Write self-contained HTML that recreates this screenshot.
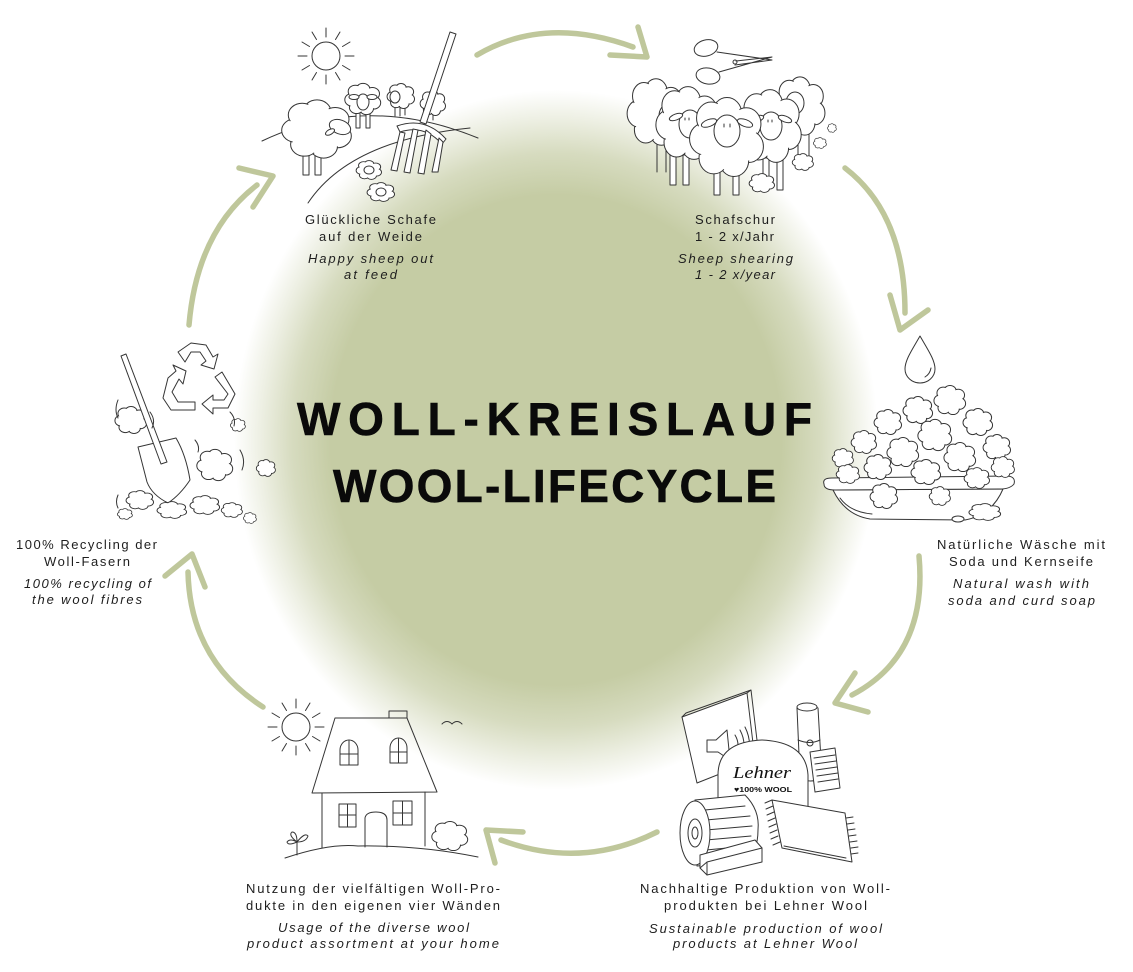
<!DOCTYPE html>
<html><head><meta charset="utf-8">
<style>
html,body{margin:0;padding:0;background:#fff;}
svg{display:block;}
.l{fill:none;stroke:#353535;stroke-width:1;stroke-linecap:round;stroke-linejoin:round;}
.w{fill:#fff;stroke:#353535;stroke-width:1;stroke-linejoin:round;stroke-linecap:round;}
.a{fill:none;stroke:#bfc79b;stroke-width:5.5;stroke-linecap:round;stroke-linejoin:round;}
.t{font-family:"Liberation Sans",sans-serif;font-size:13px;fill:#1e1e1e;}
.i{font-style:italic;}
.h{font-family:"Liberation Sans",sans-serif;font-size:46px;font-weight:bold;fill:#0a0a0a;stroke:#0a0a0a;stroke-width:0.6;}
</style></head><body>
<svg width="1133" height="972" viewBox="0 0 1133 972" xmlns="http://www.w3.org/2000/svg">
<defs>
<radialGradient id="g">
<stop offset="0" stop-color="#c5cca4"/>
<stop offset="0.7" stop-color="#c5cca4"/>
<stop offset="0.82" stop-color="#c5cca4" stop-opacity="0.7"/>
<stop offset="0.92" stop-color="#c5cca4" stop-opacity="0.3"/>
<stop offset="1" stop-color="#c5cca4" stop-opacity="0"/>
</radialGradient>
<g id="cloud">
<g fill="#fff" stroke="#353535" stroke-width="1">
<circle cx="0" cy="-0.62" r="0.42" vector-effect="non-scaling-stroke"/>
<circle cx="0.55" cy="-0.35" r="0.42" vector-effect="non-scaling-stroke"/>
<circle cx="0.62" cy="0.25" r="0.42" vector-effect="non-scaling-stroke"/>
<circle cx="0.2" cy="0.62" r="0.42" vector-effect="non-scaling-stroke"/>
<circle cx="-0.38" cy="0.55" r="0.42" vector-effect="non-scaling-stroke"/>
<circle cx="-0.65" cy="0.05" r="0.42" vector-effect="non-scaling-stroke"/>
<circle cx="-0.45" cy="-0.5" r="0.42" vector-effect="non-scaling-stroke"/>
</g>
<g fill="#fff">
<circle cx="0" cy="-0.62" r="0.37"/>
<circle cx="0.55" cy="-0.35" r="0.37"/>
<circle cx="0.62" cy="0.25" r="0.37"/>
<circle cx="0.2" cy="0.62" r="0.37"/>
<circle cx="-0.38" cy="0.55" r="0.37"/>
<circle cx="-0.65" cy="0.05" r="0.37"/>
<circle cx="-0.45" cy="-0.5" r="0.37"/>
<circle cx="0" cy="0" r="0.75"/>
</g>
</g>
</defs>
<rect width="1133" height="972" fill="#fff"/>
<ellipse cx="556" cy="440" rx="322" ry="350" fill="url(#g)"/>

<!-- Title -->
<text class="h" x="297" y="435" textLength="515" lengthAdjust="spacing">WOLL-KREISLAUF</text>
<text class="h" x="333" y="502" textLength="443" lengthAdjust="spacing">WOOL-LIFECYCLE</text>

<!-- Arrows -->
<path class="a" d="M477,55 Q545,15 633,47 M638,27 L647,57 L610,55"/>
<path class="a" d="M845,168 Q905,214 905,313 M890,295 L900,330 L928,310"/>
<path class="a" d="M919,556 Q928,655 852,695 M855,673 L835,703 L868,712"/>
<path class="a" d="M657,832 Q581,870 501,840 M523,832 L486,830 L495,863"/>
<path class="a" d="M263,707 Q190,660 188,572 M165,576 L192,554 L205,587"/>
<path class="a" d="M189,325 Q197,231 257,185 M239,168 L273,176 L253,207"/>

<!-- Illustration 1: sheep on meadow -->
<circle class="l" cx="326" cy="56" r="14"/>
<path class="l" d="M345,56H354 M342.5,65.5L350,70 M335.5,72.5L340,80 M326,75V84 M316.5,72.5L312,80 M309.5,65.5L302,70 M307,56H298 M309.5,46.5L302,42 M316.5,39.5L312,32 M326,37V28 M335.5,39.5L340,32 M342.5,46.5L350,42"/>
<path class="l" d="M262,141 Q365,92 478,138"/>
<path class="l" d="M308,203 Q350,140 470,128"/>
<path class="l" d="M395,105V116 M400,105V116 M405,105V115"/>
<use href="#cloud" transform="translate(401 96) scale(13 12)"/>
<ellipse class="w" cx="395" cy="97" rx="5" ry="6"/>
<path class="l" d="M427,110V120 M433,110V120"/>
<use href="#cloud" transform="translate(433 103) scale(12 12)"/>
<path class="w" d="M356,110h4v18h-4z M366,110h4v18h-4z"/>
<use href="#cloud" transform="translate(363 99) scale(17 15)"/>
<ellipse class="w" cx="363" cy="102" rx="6" ry="8"/>
<ellipse class="w" cx="354" cy="97" rx="5" ry="2.5"/>
<ellipse class="w" cx="372" cy="97" rx="5" ry="2.5"/>
<path class="w" d="M303,150h6v25h-6z M315,150h6v25h-6z"/>
<use href="#cloud" transform="translate(317 129) scale(33 28)"/>
<ellipse class="w" cx="340" cy="127" rx="11" ry="7" transform="rotate(20 340 127)"/>
<ellipse class="w" cx="330" cy="132" rx="5" ry="2.5" transform="rotate(-30 330 132)"/>
<path class="w" d="M450,32 L456,34 L426,124 L420,122 Z"/>
<path class="w" d="M397,126 Q425,116 446,139 L442,144 Q424,124 400,132 Z"/>
<path class="w" d="M400,132 L391,170 L397,171 L405,133 Z M413,129 L404,172 L410,173 L418,130 Z M426,130 L418,173 L424,174 L431,134 Z M439,138 L432,172 L438,172 L443,142 Z"/>
<use href="#cloud" transform="translate(369 170) scale(12 9)"/>
<ellipse class="l" cx="369" cy="170" rx="5" ry="4"/>
<use href="#cloud" transform="translate(381 192) scale(13 9)"/>
<ellipse class="l" cx="381" cy="192" rx="5" ry="4"/>

<!-- Illustration 2: sheep shearing -->
<ellipse class="l" cx="706" cy="48" rx="12" ry="8" transform="rotate(-15 706 48)"/>
<ellipse class="l" cx="708" cy="76" rx="12" ry="8" transform="rotate(10 708 76)"/>
<path class="l" d="M717,52 L772,60 L735,65 M719,72 L772,57 L736,61"/>
<circle class="l" cx="735" cy="62" r="2"/>
<path class="l" d="M657,145V172 M666,145V172"/>
<use href="#cloud" transform="translate(656 112) scale(27 32)"/>
<ellipse class="w" cx="668" cy="116" rx="9" ry="12"/>
<path class="l" d="M798,132V163 M809,132V163"/>
<use href="#cloud" transform="translate(800 106) scale(24 28)"/>
<ellipse class="w" cx="795" cy="103" rx="9" ry="11"/>
<path class="w" d="M670,155h6v30h-6z M683,155h6v30h-6z"/>
<use href="#cloud" transform="translate(688 123) scale(30 35)"/>
<ellipse class="w" cx="690" cy="124" rx="11" ry="14"/>
<ellipse class="w" cx="676" cy="117" rx="7" ry="3" transform="rotate(-20 676 117)"/>
<ellipse class="w" cx="704" cy="117" rx="7" ry="3" transform="rotate(20 704 117)"/>
<path class="w" d="M763,158h6v32h-6z M777,158h6v32h-6z"/>
<use href="#cloud" transform="translate(770 126) scale(30 35)"/>
<ellipse class="w" cx="771" cy="126" rx="11" ry="14"/>
<ellipse class="w" cx="757" cy="119" rx="7" ry="3" transform="rotate(-20 757 119)"/>
<ellipse class="w" cx="785" cy="119" rx="7" ry="3" transform="rotate(20 785 119)"/>
<path class="w" d="M714,165h6v30h-6z M733,165h6v30h-6z"/>
<use href="#cloud" transform="translate(727 137) scale(35 38)"/>
<ellipse class="w" cx="727" cy="131" rx="13" ry="16"/>
<ellipse class="w" cx="709" cy="123" rx="8" ry="3.5" transform="rotate(-20 709 123)"/>
<ellipse class="w" cx="745" cy="123" rx="8" ry="3.5" transform="rotate(20 745 123)"/>
<path class="l" d="M724,124v3 M730,124v3 M685,118v2 M689,118v2 M768,120v2 M772,120v2"/>
<use href="#cloud" transform="translate(762 183) scale(12 9)"/>
<use href="#cloud" transform="translate(803 162) scale(10 8)"/>
<use href="#cloud" transform="translate(820 143) scale(6 5)"/>
<use href="#cloud" transform="translate(832 128) scale(4 4)"/>

<!-- Illustration 3: bath -->
<path class="w" d="M920,336 C912,350 905,360 905,369 A15,14 0 0 0 935,369 C935,360 928,350 920,336 Z"/>
<path class="l" d="M925,377 Q930,374 931,368"/>
<path class="w" d="M833,490 Q845,515 870,519 L965,520 Q992,515 1003,489 Z"/>
<path class="l" d="M840,498 Q850,512 872,514"/>
<path class="w" d="M824,484 Q822,478 832,478 L1008,476 Q1016,477 1014,484 Q1010,489 1000,489 L835,490 Q824,490 824,484 Z"/>
<use href="#cloud" transform="translate(950 400) scale(15 14)"/>
<use href="#cloud" transform="translate(918 410) scale(14 13)"/>
<use href="#cloud" transform="translate(978 422) scale(14 13)"/>
<use href="#cloud" transform="translate(888 422) scale(13 12)"/>
<use href="#cloud" transform="translate(935 435) scale(16 15)"/>
<use href="#cloud" transform="translate(864 442) scale(12 11)"/>
<use href="#cloud" transform="translate(997 447) scale(13 12)"/>
<use href="#cloud" transform="translate(903 452) scale(15 14)"/>
<use href="#cloud" transform="translate(960 457) scale(15 14)"/>
<use href="#cloud" transform="translate(843 458) scale(10 9)"/>
<use href="#cloud" transform="translate(878 467) scale(13 12)"/>
<use href="#cloud" transform="translate(1003 467) scale(11 10)"/>
<use href="#cloud" transform="translate(926 472) scale(14 12)"/>
<use href="#cloud" transform="translate(848 474) scale(11 9)"/>
<use href="#cloud" transform="translate(977 478) scale(12 10)"/>
<use href="#cloud" transform="translate(884 496) scale(13 12)"/>
<use href="#cloud" transform="translate(940 496) scale(10 9)"/>
<use href="#cloud" transform="translate(985 512) scale(15 8)"/>
<ellipse class="w" cx="958" cy="519" rx="6" ry="3"/>

<!-- Illustration 4: products -->
<path class="l" d="M682,717 L686,713 L751,690 L759,757 L755,760 M747,693 L751,690"/>
<path class="w" d="M682,717 L747,693 L755,760 L697,783 Z"/>
<path class="l" d="M707,740 L716,740 L727,730 L730,760 L718,752 L707,752 Z M735,735 Q741,745 735,755 M740,730 Q748,745 740,760 M745,727 Q754,745 745,763"/>
<path class="w" d="M797,708 Q808,702 818,708 L822,778 Q810,784 800,778 Z"/>
<ellipse class="w" cx="807" cy="707" rx="10" ry="4"/>
<path class="l" d="M798,740 Q810,745 820,740"/>
<circle class="l" cx="810" cy="743" r="3"/>
<path class="w" d="M718,808 L718,775 Q718,742 762,740 Q806,742 808,775 L808,808"/>
<text x="733" y="778" font-family="Liberation Serif, serif" font-style="italic" font-size="17" fill="#111" textLength="58" lengthAdjust="spacingAndGlyphs">Lehner</text>
<text x="734" y="792" font-family="Liberation Sans, sans-serif" font-weight="bold" font-size="7.5" fill="#111" textLength="58" lengthAdjust="spacingAndGlyphs">♥100% WOOL</text>
<path class="w" d="M810,752 L835,748 L840,788 L815,792 Z"/>
<path class="l" d="M814,758 L835,755 M815,764 L836,761 M816,770 L837,767 M817,776 L838,773 M818,782 L838,779"/>
<path class="w" d="M772,800 L845,813 L852,862 L782,848 Z"/>
<path class="l" d="M772,800 L765,803 M773,806 L766,809 M774,812 L767,815 M775,818 L768,821 M776,824 L769,827 M777,830 L770,833 M778,836 L771,839 M780,842 L773,845 M846,818 L853,817 M847,824 L854,823 M848,830 L855,829 M849,836 L856,835 M850,842 L857,841 M851,848 L858,847 M851,854 L858,853 M784,846 L846,858"/>
<path class="w" d="M695,800 L745,795 Q760,810 758,830 Q758,852 745,862 L697,866 Z"/>
<path class="l" d="M705,810 L745,806 M706,820 L750,816 M706,830 L752,826 M706,840 L751,836 M706,850 L748,846"/>
<ellipse class="w" cx="695" cy="833" rx="15" ry="32"/>
<ellipse class="l" cx="695" cy="833" rx="7" ry="14"/>
<ellipse class="l" cx="695" cy="833" rx="3" ry="6"/>
<path class="w" d="M700,855 L755,840 L762,848 L762,862 L707,875 L700,868 Z"/>
<path class="l" d="M700,868 L707,862 L762,848 M707,862 L707,875"/>

<!-- Illustration 5: house -->
<circle class="l" cx="296" cy="727" r="14"/>
<path class="l" d="M315,727H324 M312.5,736.5L320,741 M305.5,743.5L310,751 M296,746V755 M286.5,743.5L282,751 M279.5,736.5L272,741 M277,727H268 M279.5,717.5L272,713 M286.5,710.5L282,703 M296,708V699 M305.5,710.5L310,703 M312.5,717.5L320,713"/>
<path class="l" d="M442,724 Q447,719 452,724 Q457,719 462,724"/>
<path class="l" d="M389,718 V711 H407 V718"/>
<path class="l" d="M335,718 L407,718 L437,792 L312,793 Z"/>
<path class="l" d="M340,765 V750 A9,10 0 0 1 358,750 V765 Z M349,741 V765 M340,754 H358"/>
<path class="l" d="M390,763 V748 A8.5,10 0 0 1 407,748 V763 Z M398.5,739 V763 M390,752 H407"/>
<path class="l" d="M322,793 V848 M425,792 V846"/>
<path class="l" d="M339,804 H356 V827 H339 Z M347.5,804 V827 M339,815 H356"/>
<path class="l" d="M393,801 H412 V825 H393 Z M402.5,801 V825 M393,813 H412"/>
<path class="l" d="M365,847 V818 Q366,812 376,812 Q387,812 387,820 V847"/>
<path class="l" d="M285,858 Q330,843 358,846 Q420,845 478,857"/>
<use href="#cloud" transform="translate(450 836) scale(17 14)"/>
<path class="l" d="M297,855 V840 M297,842 Q288,835 292,832 Q297,832 297,842 Q305,832 308,836 Q306,842 297,842 Q288,846 287,842 Q290,838 297,842"/>

<!-- Illustration 6: recycling -->
<path class="l" d="M178,352 L191,343 L206,345 L213,357 L218,354 L214,369 L201,365 L206,361 L200,352 L191,352 L185,362 Z"/>
<path class="l" d="M222,372 L235,394 L228,408 L213,408 L213,414 L202,404 L213,395 L213,400 L224,400 L228,394 L215,377 Z"/>
<path class="l" d="M168,378 L176,371 L173,365 L186,371 L183,384 L179,379 L172,392 L178,402 L195,402 L195,410 L171,410 L163,398 Z"/>
<use href="#cloud" transform="translate(131 420) scale(15 13)"/>
<use href="#cloud" transform="translate(238 425) scale(7 6)"/>
<use href="#cloud" transform="translate(266 468) scale(9 8)"/>
<path class="w" d="M138,447 L176,438 Q186,455 190,480 Q180,495 168,503 Q152,495 147,482 Z"/>
<path class="w" d="M121,356 L126,354 L167,462 L161,464 Z"/>
<use href="#cloud" transform="translate(215 465) scale(17 15)"/>
<use href="#cloud" transform="translate(140 500) scale(13 9)"/>
<use href="#cloud" transform="translate(172 510) scale(14 8)"/>
<use href="#cloud" transform="translate(205 505) scale(14 9)"/>
<use href="#cloud" transform="translate(232 510) scale(10 7)"/>
<use href="#cloud" transform="translate(125 514) scale(7 5)"/>
<use href="#cloud" transform="translate(250 518) scale(6 5)"/>
<path class="l" d="M118,400 Q114,410 118,418 M240,450 Q246,460 242,470 M150,412 Q156,420 152,428 M195,440 Q200,446 198,452 M230,412 Q236,418 234,426 M118,495 Q115,502 118,508"/>

<!-- Labels -->
<g class="t">
<text x="305" y="224" textLength="131" lengthAdjust="spacing">Glückliche Schafe</text>
<text x="319" y="241" textLength="103" lengthAdjust="spacing">auf der Weide</text>
<text class="i" x="308" y="263" textLength="125" lengthAdjust="spacing">Happy sheep out</text>
<text class="i" x="344" y="279" textLength="53" lengthAdjust="spacing">at feed</text>

<text x="695" y="224" textLength="80" lengthAdjust="spacing">Schafschur</text>
<text x="695" y="241" textLength="79" lengthAdjust="spacing">1 - 2 x/Jahr</text>
<text class="i" x="678" y="263" textLength="115" lengthAdjust="spacing">Sheep shearing</text>
<text class="i" x="695" y="279" textLength="80" lengthAdjust="spacing">1 - 2 x/year</text>

<text x="937" y="549" textLength="168" lengthAdjust="spacing">Natürliche Wäsche mit</text>
<text x="949" y="566" textLength="144" lengthAdjust="spacing">Soda und Kernseife</text>
<text class="i" x="953" y="588" textLength="136" lengthAdjust="spacing">Natural wash with</text>
<text class="i" x="948" y="605" textLength="147" lengthAdjust="spacing">soda and curd soap</text>

<text x="640" y="893" textLength="250" lengthAdjust="spacing">Nachhaltige Produktion von Woll-</text>
<text x="664" y="910" textLength="203" lengthAdjust="spacing">produkten bei Lehner Wool</text>
<text class="i" x="649" y="933" textLength="233" lengthAdjust="spacing">Sustainable production of wool</text>
<text class="i" x="673" y="948" textLength="184" lengthAdjust="spacing">products at Lehner Wool</text>

<text x="246" y="893" textLength="254" lengthAdjust="spacing">Nutzung der vielfältigen Woll-Pro-</text>
<text x="246" y="910" textLength="254" lengthAdjust="spacing">dukte in den eigenen vier Wänden</text>
<text class="i" x="278" y="932" textLength="191" lengthAdjust="spacing">Usage of the diverse wool</text>
<text class="i" x="247" y="948" textLength="252" lengthAdjust="spacing">product assortment at your home</text>

<text x="16" y="549" textLength="141" lengthAdjust="spacing">100% Recycling der</text>
<text x="44" y="566" textLength="86" lengthAdjust="spacing">Woll-Fasern</text>
<text class="i" x="24" y="588" textLength="127" lengthAdjust="spacing">100% recycling of</text>
<text class="i" x="32" y="604" textLength="110" lengthAdjust="spacing">the wool fibres</text>
</g>
</svg>
</body></html>
